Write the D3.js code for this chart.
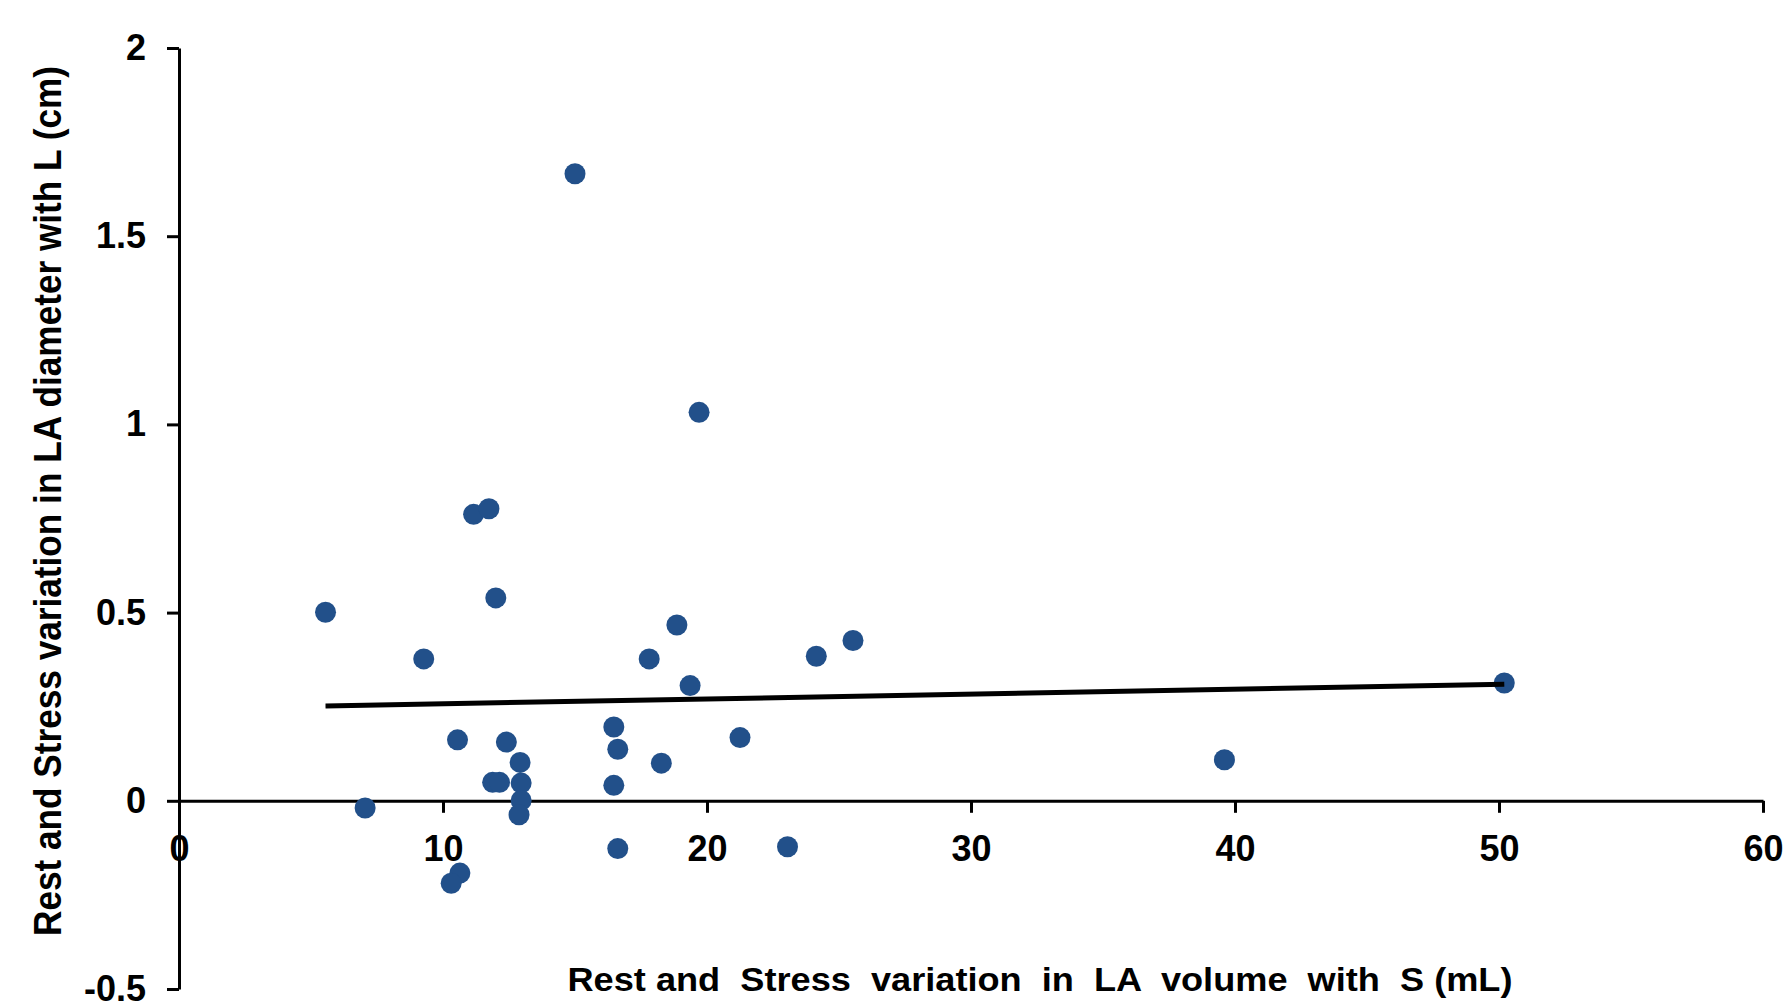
<!DOCTYPE html>
<meta charset="utf-8">
<style>

body {
  margin: 0;
  background: #fff;
}

text {
  font-family: "Liberation Sans", Arial, sans-serif;
  font-weight: bold;
  fill: #000;
}

.axis path,
.axis line {
  stroke: #000;
  stroke-width: 3px;
}

.dots circle {
  fill: #22508a;
}

.trend {
  stroke: #000;
  stroke-width: 5px;
}

</style>
<svg width="1789" height="1002"></svg>
<script src="https://d3js.org/d3.v7.min.js"></script>
<script>

// LA volume variation with S (mL)
var volumeS = [
  15.0, 19.7, 11.16, 11.74, 12.0, 5.55, 9.27, 18.86,
  17.81, 19.36, 24.14, 25.53, 50.2, 39.6, 10.55, 12.4,
  12.92, 11.88, 12.14, 12.96, 12.96, 12.88, 16.47, 16.62,
  16.47, 18.27, 21.25, 7.05, 16.62, 23.05, 10.64, 10.31
];

// LA diameter variation with L (cm)
var diameterL = [
  1.666, 1.032, 0.761, 0.776, 0.539, 0.501, 0.377, 0.467,
  0.377, 0.306, 0.384, 0.426, 0.313, 0.109, 0.162, 0.156,
  0.102, 0.049, 0.049, 0.047, 0.001, -0.037, 0.196, 0.137,
  0.041, 0.1, 0.168, -0.019, -0.127, -0.122, -0.192, -0.219
];

var xTicks = [0, 10, 20, 30, 40, 50, 60];
var yTicks = [-0.5, 0, 0.5, 1, 1.5, 2];

var xTitle = "Rest and  Stress  variation  in  LA  volume  with  S (mL)";
var yTitle = "Rest and Stress variation in LA diameter with L (cm)";

var svg = d3.select("svg");

var x = d3.scaleLinear().domain([0, 60]).range([179, 1763]);
var y = d3.scaleLinear().domain([-0.5, 2]).range([989, 48]);

var points = volumeS.map(function(v, i) { return {x: v, y: diameterL[i]}; });

// y axis
svg.append("g")
    .attr("class", "axis")
    .attr("transform", "translate(" + x(0) + ",0)")
    .call(d3.axisLeft(y)
      .tickValues(yTicks)
      .tickSize(12)
      .tickSizeOuter(0)
      .tickPadding(21)
      .tickFormat(function(d) { return String(d); }))
    .call(function(g) {
      g.selectAll("text").attr("font-size", 36).attr("font-family", null);
    });

// x axis, crossing at y = 0
svg.append("g")
    .attr("class", "axis")
    .attr("transform", "translate(0," + y(0) + ")")
    .call(d3.axisBottom(x)
      .tickValues(xTicks)
      .tickSize(12)
      .tickSizeOuter(0)
      .tickPadding(23)
      .tickFormat(function(d) { return String(d); }))
    .call(function(g) {
      g.selectAll("text").attr("font-size", 36).attr("font-family", null);
    });

// least squares trend line over the data range
var mx = d3.mean(points, function(d) { return d.x; }),
    my = d3.mean(points, function(d) { return d.y; });
var sxy = d3.sum(points, function(d) { return (d.x - mx) * (d.y - my); }),
    sxx = d3.sum(points, function(d) { return (d.x - mx) * (d.x - mx); });
var slope = sxy / sxx,
    intercept = my - slope * mx;
var xr = d3.extent(points, function(d) { return d.x; });

svg.append("g")
    .attr("class", "dots")
  .selectAll("circle")
  .data(points)
  .enter().append("circle")
    .attr("cx", function(d) { return x(d.x); })
    .attr("cy", function(d) { return y(d.y); })
    .attr("r", 10.5);

svg.append("line")
    .attr("class", "trend")
    .attr("x1", x(xr[0]))
    .attr("y1", y(intercept + slope * xr[0]))
    .attr("x2", x(xr[1]))
    .attr("y2", y(intercept + slope * xr[1]));

// titles
svg.append("text")
    .attr("x", 1040)
    .attr("y", 991)
    .attr("text-anchor", "middle")
    .attr("font-size", 34)
    .attr("textLength", 945)
    .attr("lengthAdjust", "spacingAndGlyphs")
    .style("white-space", "pre")
    .text(xTitle);

svg.append("text")
    .attr("transform", "translate(61,501) rotate(-90)")
    .attr("text-anchor", "middle")
    .attr("font-size", 38)
    .attr("textLength", 870)
    .attr("lengthAdjust", "spacingAndGlyphs")
    .text(yTitle);

</script>
